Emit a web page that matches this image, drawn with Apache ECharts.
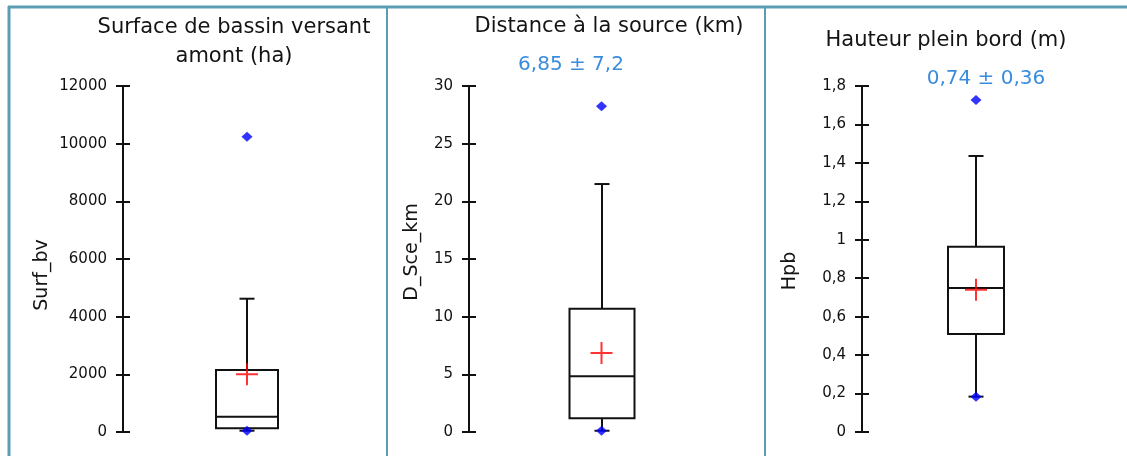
<!DOCTYPE html>
<html>
<head>
<meta charset="utf-8">
<script src="https://cdn.jsdelivr.net/npm/echarts@6/dist/echarts.min.js"></script>
<style>
  html, body { margin: 0; padding: 0; background: #fff; }
  #chart { width: 1127px; height: 456px; }
</style>
</head>
<body>
<div id="chart"></div>
<script>
// Variables shown, one box plot per panel
const variables = ['Surf_bv', 'D_Sce_km', 'Hpb'];
const panelTitles = [
  ['Surface de bassin versant', 'amont (ha)'],
  ['Distance à la source (km)'],
  ['Hauteur plein bord (m)']
];

// Box plot statistics for each variable
const whiskerLow  = [45, 0.11, 0.184];
const q1          = [128, 1.19, 0.51];
const median      = [530, 4.83, 0.749];
const q3          = [2150, 10.69, 0.964];
const whiskerHigh = [4623, 21.5, 1.436];
const minimum     = [45, 0.11, 0.184];
const maximum     = [10243, 28.25, 1.727];
const means       = [2000, 6.85, 0.74];
const stdDevs     = [null, 7.2, 0.36];

// Value axis ranges and tick steps
const axisMax      = [12000, 30, 1.8];
const axisInterval = [2000, 5, 0.2];

// Layout of each panel
const FONT = 'DejaVu Sans';
const panels = [
  { left: 123, width: 248, boxW: 62, titleX: 234, titleY: [28, 57], nameX: 42, nameY: 275, statX: null, statY: null },
  { left: 469, width: 265, boxW: 65, titleX: 609, titleY: [27], nameX: 412, nameY: 252, statX: 571, statY: 65 },
  { left: 862, width: 228, boxW: 56, titleX: 946, titleY: [41], nameX: 790, nameY: 271, statX: 986, statY: 79 }
];
const GRID_TOP = 86, GRID_H = 346;
const TICK_HALF = 7;

const fmt = v => String(+v.toFixed(2)).replace('.', ',');

const grids = [], xAxes = [], yAxes = [], series = [], graphics = [];

panels.forEach((p, i) => {
  grids.push({ left: p.left, top: GRID_TOP, width: p.width, height: GRID_H });
  xAxes.push({
    gridIndex: i, type: 'category', data: [variables[i]], boundaryGap: true,
    axisLine: { show: false }, axisTick: { show: false }, axisLabel: { show: false }, splitLine: { show: false }
  });
  // axis line and labels
  yAxes.push({
    gridIndex: i, type: 'value', min: 0, max: axisMax[i], interval: axisInterval[i], position: 'left',
    axisLine: { show: true, lineStyle: { color: '#111', width: 2 } },
    axisTick: { show: false },
    axisLabel: { margin: 16, color: '#111', fontFamily: FONT, fontSize: 15, formatter: fmt },
    splitLine: { show: false }
  });
  // ticks crossing the axis line
  yAxes.push({
    gridIndex: i, type: 'value', min: 0, max: axisMax[i], interval: axisInterval[i], position: 'left',
    offset: -TICK_HALF,
    axisLine: { show: false },
    axisTick: { show: true, length: 2 * TICK_HALF, lineStyle: { color: '#111', width: 2 } },
    axisLabel: { show: false }, splitLine: { show: false }
  });

  const boxW = p.boxW;
  series.push({
    type: 'custom',
    xAxisIndex: i, yAxisIndex: 2 * i,
    encode: { x: 0, y: [1, 2, 3, 4, 5] },
    data: [[0, whiskerLow[i], q1[i], median[i], q3[i], whiskerHigh[i]]],
    z: 2,
    renderItem: function (params, api) {
      const c = api.value(0);
      const pLow = api.coord([c, api.value(1)]);
      const pQ1 = api.coord([c, api.value(2)]);
      const pMed = api.coord([c, api.value(3)]);
      const pQ3 = api.coord([c, api.value(4)]);
      const pHigh = api.coord([c, api.value(5)]);
      const x = Math.round(pQ1[0]);
      const stroke = { stroke: '#111', lineWidth: 2, fill: 'none' };
      const cap = 7.5;
      return {
        type: 'group',
        children: [
          { type: 'line', shape: { x1: x, y1: pQ3[1], x2: x, y2: pHigh[1] }, style: stroke },
          { type: 'line', shape: { x1: x - cap, y1: pHigh[1], x2: x + cap, y2: pHigh[1] }, style: stroke },
          { type: 'line', shape: { x1: x, y1: pQ1[1], x2: x, y2: pLow[1] }, style: stroke },
          { type: 'line', shape: { x1: x - cap, y1: pLow[1], x2: x + cap, y2: pLow[1] }, style: stroke },
          { type: 'rect', shape: { x: x - boxW / 2, y: pQ3[1], width: boxW, height: pQ1[1] - pQ3[1] },
            style: { stroke: '#111', lineWidth: 2, fill: '#fff' } },
          { type: 'line', shape: { x1: x - boxW / 2, y1: pMed[1], x2: x + boxW / 2, y2: pMed[1] }, style: stroke }
        ]
      };
    }
  });
  // minimum and maximum
  series.push({
    type: 'scatter', xAxisIndex: i, yAxisIndex: 2 * i, z: 4,
    symbol: 'diamond', symbolSize: [11, 10],
    itemStyle: { color: '#0000ff' },
    data: [[0, minimum[i]], [0, maximum[i]]],
    silent: true
  });
  // mean
  series.push({
    type: 'scatter', xAxisIndex: i, yAxisIndex: 2 * i, z: 5,
    symbol: 'path://M0,10 H22 V12 H0 Z M10,0 H12 V22 H10 Z', symbolSize: 22,
    itemStyle: { color: '#ff0000' },
    data: [[0, means[i]]],
    silent: true
  });

  // panel titles
  panelTitles[i].forEach((line, k) => {
    graphics.push({
      type: 'text', x: p.titleX, y: p.titleY[k],
      style: { text: line, fill: '#141414', font: '21px "' + FONT + '"', textAlign: 'center', textVerticalAlign: 'middle' }
    });
  });
  // variable names
  graphics.push({
    type: 'text', x: p.nameX, y: p.nameY, rotation: Math.PI / 2,
    style: { text: variables[i], fill: '#141414', font: '19px "' + FONT + '"', textAlign: 'center', textVerticalAlign: 'middle' }
  });
  // mean ± standard deviation
  if (stdDevs[i] !== null) {
    graphics.push({
      type: 'text', x: p.statX, y: p.statY,
      style: { text: fmt(means[i]) + ' ± ' + fmt(stdDevs[i]), fill: '#3a8ddd', font: '20px "' + FONT + '"', textAlign: 'center', textVerticalAlign: 'middle' }
    });
  }
});

// panel frame
const frameColor = '#5c9db3';
graphics.push(
  { type: 'line', shape: { x1: 8, y1: 7, x2: 1127, y2: 7 }, style: { stroke: frameColor, lineWidth: 3 } },
  { type: 'line', shape: { x1: 9, y1: 6, x2: 9, y2: 456 }, style: { stroke: frameColor, lineWidth: 3 } },
  { type: 'line', shape: { x1: 387, y1: 7, x2: 387, y2: 456 }, style: { stroke: frameColor, lineWidth: 2 } },
  { type: 'line', shape: { x1: 765, y1: 7, x2: 765, y2: 456 }, style: { stroke: frameColor, lineWidth: 2 } }
);

const chart = echarts.init(document.getElementById('chart'), null, { renderer: 'canvas' });
chart.setOption({
  backgroundColor: '#fff',
  animation: false,
  grid: grids,
  xAxis: xAxes,
  yAxis: yAxes,
  series: series,
  graphic: graphics
});
</script>
</body>
</html>
